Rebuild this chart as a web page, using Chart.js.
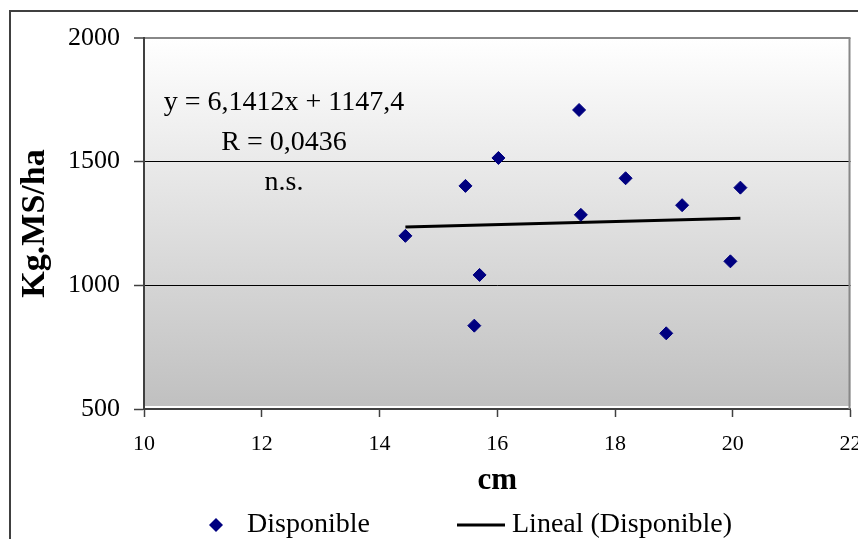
<!DOCTYPE html>
<html>
<head>
<meta charset="utf-8">
<script src="https://cdn.jsdelivr.net/npm/chart.js@4/dist/chart.umd.min.js"></script>
<style>
html,body{margin:0;padding:0;background:#fff;}
#wrap{width:858px;height:539px;position:relative;}
</style>
</head>
<body>
<div id="wrap"><canvas id="c" width="858" height="539"></canvas></div>
<script>
// ---- data ----
const cmValues   = [14.44, 15.46, 16.02, 15.70, 15.61, 17.39, 17.42, 18.18, 19.14, 20.13, 19.96, 18.87];
const kgValues   = [1200, 1402, 1515, 1042, 837, 1709, 1285, 1433, 1324, 1395, 1097, 806];
const trendX     = [14.44, 20.13];
const trendY     = [1236, 1271];
const xTicks     = [10, 12, 14, 16, 18, 20, 22];
const yTicks     = [500, 1000, 1500, 2000];
const seriesName = 'Disponible';
const trendName  = 'Lineal (Disponible)';
const xTitle     = 'cm';
const yTitle     = 'Kg.MS/ha';
const annotation = ['y = 6,1412x + 1147,4', 'R = 0,0436', 'n.s.'];

const SERIF = "'Times New Roman','Liberation Serif',serif";
const navy = '#000080';

const scatterPts = cmValues.map((x, i) => ({x: x, y: kgValues[i]}));
const trendPts = trendX.map((x, i) => ({x: x, y: trendY[i]}));

const bgPlugin = {
  id: 'bg',
  beforeDraw(chart) {
    const {ctx, chartArea: a} = chart;
    ctx.save();
    ctx.fillStyle = '#fff';
    ctx.fillRect(0, 0, chart.width, chart.height);
    // outer chart border
    ctx.strokeStyle = '#404040';
    ctx.lineWidth = 2;
    ctx.beginPath();
    ctx.moveTo(10, chart.height + 2);
    ctx.lineTo(10, 11);
    ctx.lineTo(chart.width + 2, 11);
    ctx.stroke();
    // plot area gradient
    const g = ctx.createLinearGradient(0, a.top, 0, a.bottom - 3);
    g.addColorStop(0, '#ffffff');
    g.addColorStop(1, '#c0c0c0');
    ctx.fillStyle = g;
    ctx.fillRect(a.left, a.top, a.right - a.left, a.bottom - 3 - a.top);
    ctx.restore();
  },
  afterDraw(chart) {
    const {ctx, chartArea: a} = chart;
    ctx.save();
    // right border of plot area
    ctx.strokeStyle = '#888888';
    ctx.lineWidth = 2;
    ctx.beginPath();
    ctx.moveTo(a.right - 1, a.top);
    ctx.lineTo(a.right - 1, a.bottom);
    ctx.stroke();
    // annotation
    ctx.fillStyle = '#000';
    ctx.font = '28px ' + SERIF;
    ctx.textAlign = 'center';
    ctx.textBaseline = 'alphabetic';
    const cx = 284;
    const base = [110, 150, 190];
    annotation.forEach((t, i) => ctx.fillText(t, cx, base[i]));
    // legend
    const ds = chart.data.datasets;
    const ly = 525;
    ctx.fillStyle = navy;
    ctx.beginPath();
    ctx.moveTo(216 - 7, ly);
    ctx.lineTo(216, ly - 7);
    ctx.lineTo(216 + 7, ly);
    ctx.lineTo(216, ly + 7);
    ctx.closePath();
    ctx.fill();
    ctx.fillStyle = '#000';
    ctx.textAlign = 'left';
    ctx.fillText(ds[0].label, 247, 532);
    ctx.strokeStyle = '#000';
    ctx.lineWidth = 3;
    ctx.beginPath();
    ctx.moveTo(457, ly);
    ctx.lineTo(505, ly);
    ctx.stroke();
    ctx.fillText(ds[1].label, 512, 532);
    ctx.restore();
  }
};

new Chart(document.getElementById('c'), {
  type: 'scatter',
  data: {
    datasets: [
      {
        label: seriesName,
        data: scatterPts,
        pointStyle: 'rectRot',
        pointRadius: 6.5,
        pointHoverRadius: 6.5,
        backgroundColor: navy,
        borderColor: navy,
        borderWidth: 1,
        showLine: false
      },
      {
        label: trendName,
        type: 'line',
        data: trendPts,
        borderColor: '#000',
        borderWidth: 3,
        pointRadius: 0,
        fill: false,
        tension: 0
      }
    ]
  },
  options: {
    responsive: false,
    animation: false,
    events: [],
    layout: {padding: {top: 38, right: 6, left: 0, bottom: 0}},
    plugins: {legend: {display: false}, tooltip: {enabled: false}},
    scales: {
      x: {
        type: 'linear',
        min: 10, max: 22,
        afterBuildTicks(s) { s.ticks = xTicks.map(v => ({value: v})); },
        afterFit(s) { s.height = 130; s.paddingLeft = 0; s.paddingRight = 0; },
        ticks: {color: '#000', font: {family: SERIF, size: 22}, padding: 14, maxRotation: 0, autoSkip: false, callback: v => String(v)},
        grid: {drawOnChartArea: false, drawTicks: true, tickLength: 8, tickColor: '#404040', tickWidth: 1.5},
        border: {color: '#404040', width: 2},
        title: {display: true, text: xTitle, color: '#000', font: {family: SERIF, size: 31, weight: 'bold'}, padding: {top: 0, bottom: 39}}
      },
      y: {
        type: 'linear',
        min: 500, max: 2000,
        afterBuildTicks(s) { s.ticks = yTicks.map(v => ({value: v})); },
        afterFit(s) { s.width = 144; s.paddingTop = 0; s.paddingBottom = 0; },
        ticks: {color: '#000', font: {family: SERIF, size: 26}, padding: 14, autoSkip: false, callback: v => String(v)},
        grid: {
          drawTicks: true, tickLength: 10, tickColor: '#404040', tickWidth: 1.5,
          color: ctx => ctx.tick && ctx.tick.value === 2000 ? '#888888' : (ctx.tick && ctx.tick.value === 500 ? 'rgba(0,0,0,0)' : '#000000'),
          lineWidth: ctx => ctx.tick && ctx.tick.value === 2000 ? 2 : 1
        },
        border: {color: '#404040', width: 2},
        title: {display: true, text: yTitle, color: '#000', font: {family: SERIF, size: 34, weight: 'bold'}, padding: {top: 15, bottom: 0}}
      }
    }
  },
  plugins: [bgPlugin]
});
</script>
</body>
</html>
